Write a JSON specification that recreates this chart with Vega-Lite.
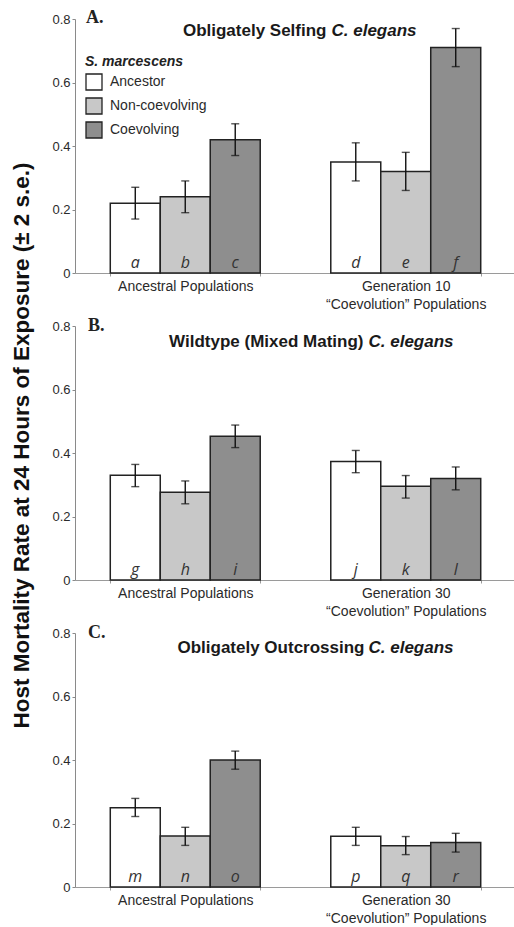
{
  "$schema": "https://vega.github.io/schema/vega-lite/v6.json",
  "padding": {"left": 10, "top": 9, "right": 0, "bottom": 0},
  "background": "#ffffff",
  "bounds": "flush",
  "spacing": 53,
  "config": {
    "view": {"stroke": null},
    "font": "Liberation Sans",
    "axisX": {"title": null, "labelAngle": 0, "labelFont": "Liberation Sans", "labelFontSize": 14, "labelColor": "#2a2a2a", "domainColor": "#9a9a9a", "tickColor": "#9a9a9a", "tickSize": 3, "tickBand": "extent", "labelPadding": 3, "labelLineHeight": 18, "labelBaseline": "top", "grid": false},
    "axisY": {"labelFont": "Liberation Sans", "labelFontSize": 13, "labelColor": "#2a2a2a", "domainColor": "#8a8a8a", "tickColor": "#8a8a8a", "tickSize": 3, "labelPadding": 2, "grid": false}
  },
  "resolve": {"legend": {"fill": "independent"}},
  "vconcat": [
    {
      "width": 441, "height": 254,
      "data": {"values": [
        {"population": "Ancestral Populations", "strain": "Ancestor", "rate": 0.22, "lo": 0.17, "hi": 0.27, "letter": "a"},
        {"population": "Ancestral Populations", "strain": "Non-coevolving", "rate": 0.24, "lo": 0.19, "hi": 0.29, "letter": "b"},
        {"population": "Ancestral Populations", "strain": "Coevolving", "rate": 0.42, "lo": 0.37, "hi": 0.47, "letter": "c"},
        {"population": "Generation 10 “Coevolution” Populations", "strain": "Ancestor", "rate": 0.35, "lo": 0.29, "hi": 0.41, "letter": "d"},
        {"population": "Generation 10 “Coevolution” Populations", "strain": "Non-coevolving", "rate": 0.32, "lo": 0.26, "hi": 0.38, "letter": "e"},
        {"population": "Generation 10 “Coevolution” Populations", "strain": "Coevolving", "rate": 0.71, "lo": 0.65, "hi": 0.77, "letter": "f"}
      ]},
      "encoding": {
        "x": {"field": "population", "type": "nominal", "sort": null, "scale": {"paddingInner": 0.32, "paddingOuter": 0.16}, "axis": {"labelExpr": "indexof(datum.label, 'Generation') == 0 ? [slice(datum.label, 0, 13), slice(datum.label, 14)] : datum.label"}},
        "xOffset": {"field": "strain", "type": "nominal", "sort": ["Ancestor", "Non-coevolving", "Coevolving"], "scale": {"paddingInner": 0, "paddingOuter": 0}}
      },
      "layer": [
        {"mark": {"type": "bar", "stroke": "#222222", "strokeWidth": 1.5},
         "encoding": {
           "y": {"field": "rate", "type": "quantitative", "scale": {"domain": [0, 0.8]}, "axis": {"values": [0, 0.2, 0.4, 0.6, 0.8], "format": ".1~f", "title": null}},
           "fill": {"field": "strain", "type": "nominal", "sort": ["Ancestor", "Non-coevolving", "Coevolving"], "scale": {"domain": ["Ancestor", "Non-coevolving", "Coevolving"], "range": ["#ffffff", "#c8c8c8", "#8e8e8e"]},
             "legend": {"title": "S. marcescens", "orient": "none", "legendX": 10, "legendY": 36, "titleFont": "Liberation Sans", "titleFontSize": 14, "titleFontStyle": "italic", "titleFontWeight": "bold", "titleColor": "#222222", "labelFont": "Liberation Sans", "labelFontSize": 14, "labelColor": "#2a2a2a", "symbolType": "square", "symbolSize": 256, "symbolStrokeColor": "#222222", "symbolStrokeWidth": 1.3, "symbolOpacity": 1, "rowPadding": 2, "labelOffset": 7, "titlePadding": 4}}
         }},
        {"mark": {"type": "rule", "color": "#111111", "strokeWidth": 1.4},
         "encoding": {"y": {"field": "lo", "type": "quantitative"}, "y2": {"field": "hi"}}},
        {"mark": {"type": "tick", "orient": "horizontal", "size": 8, "thickness": 1.4, "color": "#111111"},
         "encoding": {"y": {"field": "hi", "type": "quantitative"}}},
        {"mark": {"type": "tick", "orient": "horizontal", "size": 8, "thickness": 1.4, "color": "#111111"},
         "encoding": {"y": {"field": "lo", "type": "quantitative"}}},
        {"mark": {"type": "text", "font": "Open Sans", "fontStyle": "italic", "fontSize": 16, "baseline": "alphabetic", "dy": -5, "color": "#333333"},
         "encoding": {"y": {"datum": 0}, "text": {"field": "letter"}}},
        {"data": {"values": [{"tag": "A.", "main": "Obligately Selfing", "species": "C. elegans"}]},
         "layer": [
           {"mark": {"type": "text", "font": "Liberation Serif", "fontWeight": "bold", "fontSize": 18, "align": "left", "baseline": "alphabetic", "dx": -209.5, "dy": 4, "color": "#222222"},
            "encoding": {"x": null, "xOffset": null, "y": {"datum": 0.8}, "text": {"field": "tag"}}},
           {"mark": {"type": "text", "font": "Liberation Sans", "fontWeight": "bold", "fontSize": 17, "align": "right", "baseline": "alphabetic", "dx": 31, "dy": 17, "color": "#1a1a1a"},
            "encoding": {"x": null, "xOffset": null, "y": {"datum": 0.8}, "text": {"field": "main"}}},
           {"mark": {"type": "text", "font": "Liberation Sans", "fontWeight": "bold", "fontStyle": "italic", "fontSize": 17, "align": "left", "baseline": "alphabetic", "dx": 36, "dy": 17, "color": "#1a1a1a"},
            "encoding": {"x": null, "xOffset": null, "y": {"datum": 0.8}, "text": {"field": "species"}}}
         ]}
      ]
    },
    {
      "width": 441, "height": 254,
      "data": {"values": [
        {"population": "Ancestral Populations", "strain": "Ancestor", "rate": 0.33, "lo": 0.294, "hi": 0.364, "letter": "g"},
        {"population": "Ancestral Populations", "strain": "Non-coevolving", "rate": 0.276, "lo": 0.24, "hi": 0.312, "letter": "h"},
        {"population": "Ancestral Populations", "strain": "Coevolving", "rate": 0.453, "lo": 0.417, "hi": 0.488, "letter": "i"},
        {"population": "Generation 30 “Coevolution” Populations", "strain": "Ancestor", "rate": 0.373, "lo": 0.338, "hi": 0.408, "letter": "j"},
        {"population": "Generation 30 “Coevolution” Populations", "strain": "Non-coevolving", "rate": 0.295, "lo": 0.258, "hi": 0.329, "letter": "k"},
        {"population": "Generation 30 “Coevolution” Populations", "strain": "Coevolving", "rate": 0.32, "lo": 0.284, "hi": 0.356, "letter": "l"}
      ]},
      "encoding": {
        "x": {"field": "population", "type": "nominal", "sort": null, "scale": {"paddingInner": 0.32, "paddingOuter": 0.16}, "axis": {"labelExpr": "indexof(datum.label, 'Generation') == 0 ? [slice(datum.label, 0, 13), slice(datum.label, 14)] : datum.label"}},
        "xOffset": {"field": "strain", "type": "nominal", "sort": ["Ancestor", "Non-coevolving", "Coevolving"], "scale": {"paddingInner": 0, "paddingOuter": 0}}
      },
      "layer": [
        {"mark": {"type": "bar", "stroke": "#222222", "strokeWidth": 1.5},
         "encoding": {
           "y": {"field": "rate", "type": "quantitative", "scale": {"domain": [0, 0.8]}, "axis": {"values": [0, 0.2, 0.4, 0.6, 0.8], "format": ".1~f", "title": "Host Mortality Rate at 24 Hours of Exposure (± 2 s.e.)", "titleFont": "Liberation Sans", "titleFontSize": 22.5, "titleFontWeight": "bold", "titleColor": "#111111", "titlePadding": 18, "titleY": 119}},
           "fill": {"field": "strain", "type": "nominal", "sort": ["Ancestor", "Non-coevolving", "Coevolving"], "scale": {"domain": ["Ancestor", "Non-coevolving", "Coevolving"], "range": ["#ffffff", "#c8c8c8", "#8e8e8e"]}, "legend": null}
         }},
        {"mark": {"type": "rule", "color": "#111111", "strokeWidth": 1.4},
         "encoding": {"y": {"field": "lo", "type": "quantitative"}, "y2": {"field": "hi"}}},
        {"mark": {"type": "tick", "orient": "horizontal", "size": 8, "thickness": 1.4, "color": "#111111"},
         "encoding": {"y": {"field": "hi", "type": "quantitative"}}},
        {"mark": {"type": "tick", "orient": "horizontal", "size": 8, "thickness": 1.4, "color": "#111111"},
         "encoding": {"y": {"field": "lo", "type": "quantitative"}}},
        {"mark": {"type": "text", "font": "Open Sans", "fontStyle": "italic", "fontSize": 16, "baseline": "alphabetic", "dy": -5, "color": "#333333"},
         "encoding": {"y": {"datum": 0}, "text": {"field": "letter"}}},
        {"data": {"values": [{"tag": "B.", "main": "Wildtype (Mixed Mating)", "species": "C. elegans"}]},
         "layer": [
           {"mark": {"type": "text", "font": "Liberation Serif", "fontWeight": "bold", "fontSize": 18, "align": "left", "baseline": "alphabetic", "dx": -207.5, "dy": 5, "color": "#222222"},
            "encoding": {"x": null, "xOffset": null, "y": {"datum": 0.8}, "text": {"field": "tag"}}},
           {"mark": {"type": "text", "font": "Liberation Sans", "fontWeight": "bold", "fontSize": 17, "align": "right", "baseline": "alphabetic", "dx": 68, "dy": 21, "color": "#1a1a1a"},
            "encoding": {"x": null, "xOffset": null, "y": {"datum": 0.8}, "text": {"field": "main"}}},
           {"mark": {"type": "text", "font": "Liberation Sans", "fontWeight": "bold", "fontStyle": "italic", "fontSize": 17, "align": "left", "baseline": "alphabetic", "dx": 73, "dy": 21, "color": "#1a1a1a"},
            "encoding": {"x": null, "xOffset": null, "y": {"datum": 0.8}, "text": {"field": "species"}}}
         ]}
      ]
    },
    {
      "width": 441, "height": 254,
      "data": {"values": [
        {"population": "Ancestral Populations", "strain": "Ancestor", "rate": 0.25, "lo": 0.222, "hi": 0.279, "letter": "m"},
        {"population": "Ancestral Populations", "strain": "Non-coevolving", "rate": 0.161, "lo": 0.131, "hi": 0.188, "letter": "n"},
        {"population": "Ancestral Populations", "strain": "Coevolving", "rate": 0.4, "lo": 0.371, "hi": 0.428, "letter": "o"},
        {"population": "Generation 30 “Coevolution” Populations", "strain": "Ancestor", "rate": 0.16, "lo": 0.131, "hi": 0.188, "letter": "p"},
        {"population": "Generation 30 “Coevolution” Populations", "strain": "Non-coevolving", "rate": 0.13, "lo": 0.102, "hi": 0.159, "letter": "q"},
        {"population": "Generation 30 “Coevolution” Populations", "strain": "Coevolving", "rate": 0.14, "lo": 0.11, "hi": 0.169, "letter": "r"}
      ]},
      "encoding": {
        "x": {"field": "population", "type": "nominal", "sort": null, "scale": {"paddingInner": 0.32, "paddingOuter": 0.16}, "axis": {"labelExpr": "indexof(datum.label, 'Generation') == 0 ? [slice(datum.label, 0, 13), slice(datum.label, 14)] : datum.label"}},
        "xOffset": {"field": "strain", "type": "nominal", "sort": ["Ancestor", "Non-coevolving", "Coevolving"], "scale": {"paddingInner": 0, "paddingOuter": 0}}
      },
      "layer": [
        {"mark": {"type": "bar", "stroke": "#222222", "strokeWidth": 1.5},
         "encoding": {
           "y": {"field": "rate", "type": "quantitative", "scale": {"domain": [0, 0.8]}, "axis": {"values": [0, 0.2, 0.4, 0.6, 0.8], "format": ".1~f", "title": null}},
           "fill": {"field": "strain", "type": "nominal", "sort": ["Ancestor", "Non-coevolving", "Coevolving"], "scale": {"domain": ["Ancestor", "Non-coevolving", "Coevolving"], "range": ["#ffffff", "#c8c8c8", "#8e8e8e"]}, "legend": null}
         }},
        {"mark": {"type": "rule", "color": "#111111", "strokeWidth": 1.4},
         "encoding": {"y": {"field": "lo", "type": "quantitative"}, "y2": {"field": "hi"}}},
        {"mark": {"type": "tick", "orient": "horizontal", "size": 8, "thickness": 1.4, "color": "#111111"},
         "encoding": {"y": {"field": "hi", "type": "quantitative"}}},
        {"mark": {"type": "tick", "orient": "horizontal", "size": 8, "thickness": 1.4, "color": "#111111"},
         "encoding": {"y": {"field": "lo", "type": "quantitative"}}},
        {"mark": {"type": "text", "font": "Open Sans", "fontStyle": "italic", "fontSize": 16, "baseline": "alphabetic", "dy": -5, "color": "#333333"},
         "encoding": {"y": {"datum": 0}, "text": {"field": "letter"}}},
        {"data": {"values": [{"tag": "C.", "main": "Obligately Outcrossing", "species": "C. elegans"}]},
         "layer": [
           {"mark": {"type": "text", "font": "Liberation Serif", "fontWeight": "bold", "fontSize": 18, "align": "left", "baseline": "alphabetic", "dx": -207.5, "dy": 5, "color": "#222222"},
            "encoding": {"x": null, "xOffset": null, "y": {"datum": 0.8}, "text": {"field": "tag"}}},
           {"mark": {"type": "text", "font": "Liberation Sans", "fontWeight": "bold", "fontSize": 17, "align": "right", "baseline": "alphabetic", "dx": 69, "dy": 20, "color": "#1a1a1a"},
            "encoding": {"x": null, "xOffset": null, "y": {"datum": 0.8}, "text": {"field": "main"}}},
           {"mark": {"type": "text", "font": "Liberation Sans", "fontWeight": "bold", "fontStyle": "italic", "fontSize": 17, "align": "left", "baseline": "alphabetic", "dx": 73, "dy": 20, "color": "#1a1a1a"},
            "encoding": {"x": null, "xOffset": null, "y": {"datum": 0.8}, "text": {"field": "species"}}}
         ]}
      ]
    }
  ]
}
